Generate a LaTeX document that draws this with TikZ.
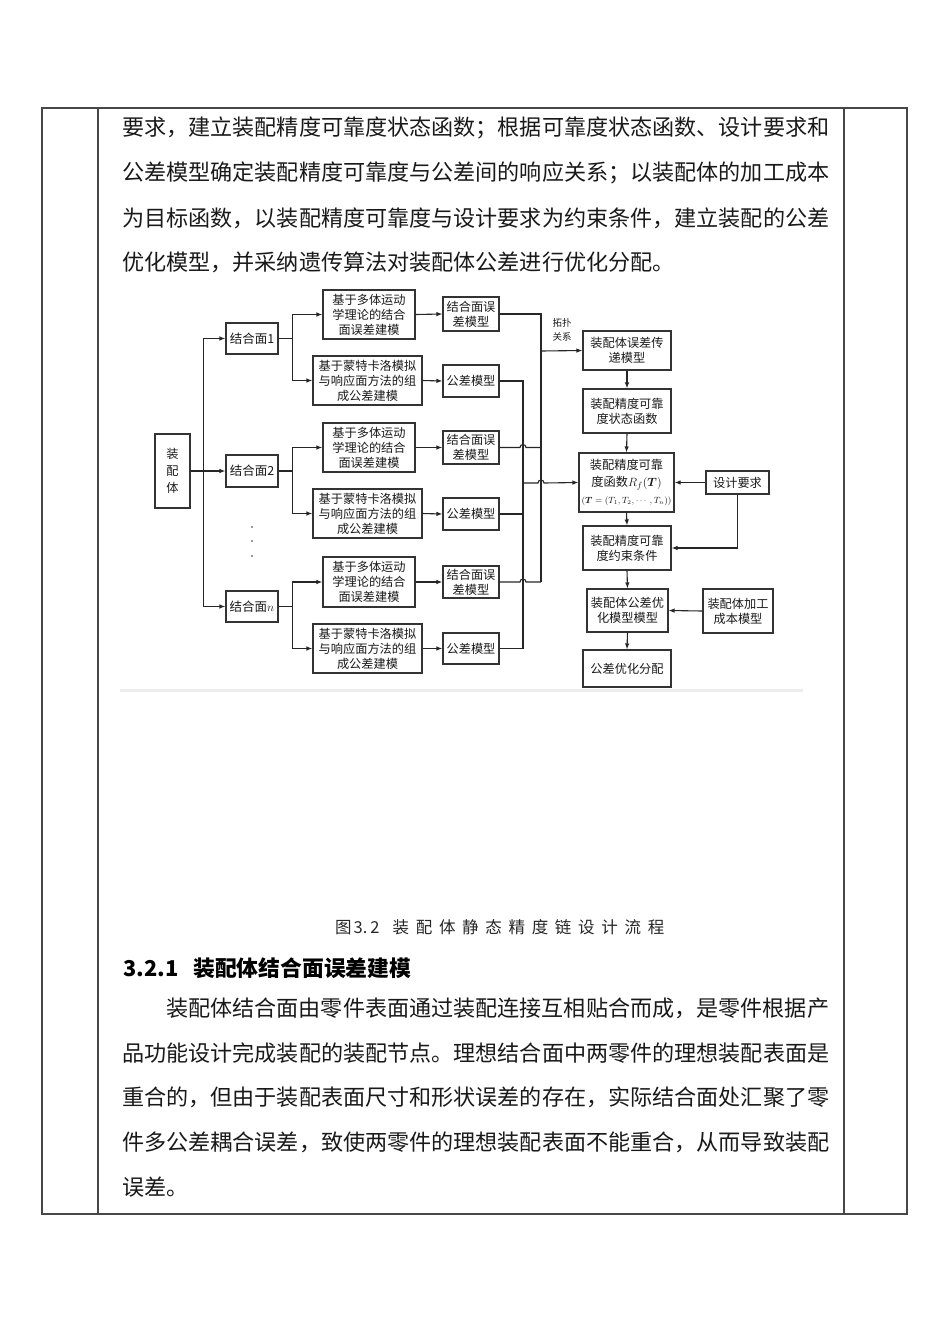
\documentclass[tikz,border=0pt]{standalone}
\usepackage{amsmath}
\usepackage{fontspec}
\setmainfont{Noto Sans CJK SC}
\usetikzlibrary{arrows.meta}
\begin{document}
\begin{tikzpicture}[x=1pt,y=-1pt,
  bx/.style={draw=black!80, line width=1.1pt, inner sep=0pt, align=center, font=\fontsize{12.2}{15}\selectfont, text=black!90},
  arr/.style={draw=black!85, line width=1.1pt, -{Latex[length=6pt,width=4.5pt]}},
  ln/.style={draw=black!85, line width=1.1pt},
  para/.style={anchor=west, inner sep=0pt, font=\fontsize{22.1}{26}\selectfont, text=black!90},
  frame/.style={draw=black!72, line width=1.3pt}]
\useasboundingbox (0,0) rectangle (950,1342);
% table frame
\draw[frame] (42,108) rectangle (907,1214);
\draw[frame] (98,108) -- (98,1214);
\draw[frame] (844,108) -- (844,1214);
% top paragraph
\node[para] (p1) at (122,128) {要求，建立装配精度可靠度状态函数；根据可靠度状态函数、设计要求和};
\node[para] (p2) at (122,173) {公差模型确定装配精度可靠度与公差间的响应关系；以装配体的加工成本};
\node[para] (p3) at (122,218) {为目标函数，以装配精度可靠度与设计要求为约束条件，建立装配的公差};
\node[para] (p4) at (122,262) {优化模型，并采纳遗传算法对装配体公差进行优化分配。};
% diagram nodes
\node[bx, minimum width=35pt, minimum height=74pt, font=\fontsize{12.2}{17}\selectfont] (zp) at (172.5,471) {装\\配\\体};
\node[bx, minimum width=52pt, minimum height=31pt, font=\fontsize{12.5}{15}\selectfont] (m1) at (252,338.5) {结合面1};
\node[bx, minimum width=52pt, minimum height=32pt, font=\fontsize{12.5}{15}\selectfont] (m2) at (252,471) {结合面2};
\node[bx, minimum width=52pt, minimum height=31pt, font=\fontsize{12.5}{15}\selectfont] (mn) at (252,606.5) {结合面$n$};
\node[bx, minimum width=92pt, minimum height=49pt] (a1) at (369,314.5) {基于多体运动\\学理论的结合\\面误差建模};
\node[bx, minimum width=109pt, minimum height=49pt] (b1) at (367.5,380.5) {基于蒙特卡洛模拟\\与响应面方法的组\\成公差建模};
\node[bx, minimum width=92pt, minimum height=49pt] (a2) at (369,447.5) {基于多体运动\\学理论的结合\\面误差建模};
\node[bx, minimum width=109pt, minimum height=49pt] (b2) at (367.5,513.5) {基于蒙特卡洛模拟\\与响应面方法的组\\成公差建模};
\node[bx, minimum width=92pt, minimum height=50pt] (an) at (369,582) {基于多体运动\\学理论的结合\\面误差建模};
\node[bx, minimum width=109pt, minimum height=49pt] (bn) at (367.5,648.5) {基于蒙特卡洛模拟\\与响应面方法的组\\成公差建模};
\node[bx, minimum width=56pt, minimum height=34pt] (e1) at (471,314) {结合面误\\差模型};
\node[bx, minimum width=56pt, minimum height=32pt] (t1) at (471,381) {公差模型};
\node[bx, minimum width=56pt, minimum height=33pt] (e2) at (471,447.5) {结合面误\\差模型};
\node[bx, minimum width=56pt, minimum height=32pt] (t2) at (471,514) {公差模型};
\node[bx, minimum width=56pt, minimum height=32pt] (en) at (471,582) {结合面误\\差模型};
\node[bx, minimum width=56pt, minimum height=31pt] (tn) at (471,648.5) {公差模型};
\node[bx, minimum width=88pt, minimum height=39pt] (r1) at (627,350.5) {装配体误差传\\递模型};
\node[bx, minimum width=88pt, minimum height=44pt] (r2) at (627,411) {装配精度可靠\\度状态函数};
\node[bx, minimum width=95pt, minimum height=59pt, font=\fontsize{12.2}{17}\selectfont] (r3) at (626.5,482.5) {装配精度可靠\\度函数$R_f(\boldsymbol{T})$\\{\fontsize{8.8}{11}\selectfont$(\boldsymbol{T}=(T_1,T_2,\cdots,T_n))$}};
\node[bx, minimum width=63pt, minimum height=23pt] (dz) at (737.5,482.5) {设计要求};
\node[bx, minimum width=88pt, minimum height=44pt] (r4) at (627,548) {装配精度可靠\\度约束条件};
\node[bx, minimum width=81pt, minimum height=43pt] (r5) at (627.5,610.5) {装配体公差优\\化模型模型};
\node[bx, minimum width=70pt, minimum height=44pt] (cb) at (738,611) {装配体加工\\成本模型};
\node[bx, minimum width=88pt, minimum height=37pt] (r6) at (627,668.5) {公差优化分配};
\node[inner sep=0pt, align=center, font=\fontsize{9.5}{14}\selectfont, text=black!90] (tp) at (562,330) {拓扑\\关系};
% dots
\fill[black!80] (252,527) circle (0.9pt) (252,541) circle (0.9pt) (252,556) circle (0.9pt);
% trunk from assembly
\draw[arr] (zp.east) -- (m2.west);
\draw[arr] (zp.east) -- ++(13,0) |- (m1.west);
\draw[arr] (zp.east) -- ++(13,0) |- (mn.west);
% branches
\draw[arr] (m1.east) -- ++(14,0) |- (a1.west);
\draw[arr] (m1.east) -- ++(14,0) |- (b1.west);
\draw[arr] (m2.east) -- ++(14,0) |- (a2.west);
\draw[arr] (m2.east) -- ++(14,0) |- (b2.west);
\draw[arr] (mn.east) -- ++(14,0) |- (an.west);
\draw[arr] (mn.east) -- ++(14,0) |- (bn.west);
\foreach \s/\t in {a1/e1,b1/t1,a2/e2,b2/t2,an/en,bn/tn} \draw[arr] (\s.east) -- (\t.west);
% buses
\coordinate (A1) at (541,314);
\coordinate (A2) at (541,447.5);
\coordinate (An) at (541,582);
\coordinate (Ar) at (541,351);
\coordinate (B1) at (523,381);
\coordinate (B2) at (523,514);
\coordinate (Bn) at (523,648.5);
\coordinate (Br) at (523,483);
\draw[ln] (e1.east) -- (A1) -- (An);
\draw[ln] (t1.east) -- (B1) -- (Bn);
\draw[ln] (t2.east) -- (B2);
\draw[ln] (tn.east) -- (Bn);
\draw[ln] (e2.east) -- (520,447.5) arc[start angle=180,end angle=0,radius=3pt] -- (A2);
\draw[ln] (en.east) -- (520,582) arc[start angle=180,end angle=0,radius=3pt] -- (An);
\draw[arr] (Br) -- (538,483) arc[start angle=180,end angle=0,radius=3pt] -- (r3.west);
\draw[arr] (Ar) -- (r1.west);
% right column
\draw[arr] (r1.south) -- (r2.north);
\draw[arr] (r2.south) -- (r3.north);
\draw[arr] (r3.south) -- (r4.north);
\draw[arr] (r4.south) -- (r5.north);
\draw[arr] (r5.south) -- (r6.north);
\draw[arr] (dz.west) -- (r3.east);
\draw[arr] (dz.south) |- (r4.east);
\draw[arr] (cb.west) -- (r5.east);
% grey rule under figure
\draw[black!7, line width=3pt] (120,690) -- (803,690);
% caption
\node[anchor=west, inner sep=0pt, font=\fontsize{16.5}{20}\selectfont, text=black!85] (cap) at (335,927) {图\kern2pt 3.\kern3pt 2\hspace{13pt}装\kern6.7pt 配\kern6.7pt 体\kern6.7pt 静\kern6.7pt 态\kern6.7pt 精\kern6.7pt 度\kern6.7pt 链\kern6.7pt 设\kern6.7pt 计\kern6.7pt 流\kern6.7pt 程};
% heading
\node[anchor=west, inner sep=0pt, font=\fontsize{21.8}{26}\selectfont\bfseries, text=black] (hd) at (123,968) {3.2.1\hspace{15pt}装配体结合面误差建模};
% body paragraph
\node[para] (q1) at (166,1008) {装配体结合面由零件表面通过装配连接互相贴合而成，是零件根据产};
\node[para] (q2) at (122,1053) {品功能设计完成装配的装配节点。理想结合面中两零件的理想装配表面是};
\node[para] (q3) at (122,1097) {重合的，但由于装配表面尺寸和形状误差的存在，实际结合面处汇聚了零};
\node[para] (q4) at (122,1142) {件多公差耦合误差，致使两零件的理想装配表面不能重合，从而导致装配};
\node[para] (q5) at (122,1187) {误差。};
\end{tikzpicture}
\end{document}
